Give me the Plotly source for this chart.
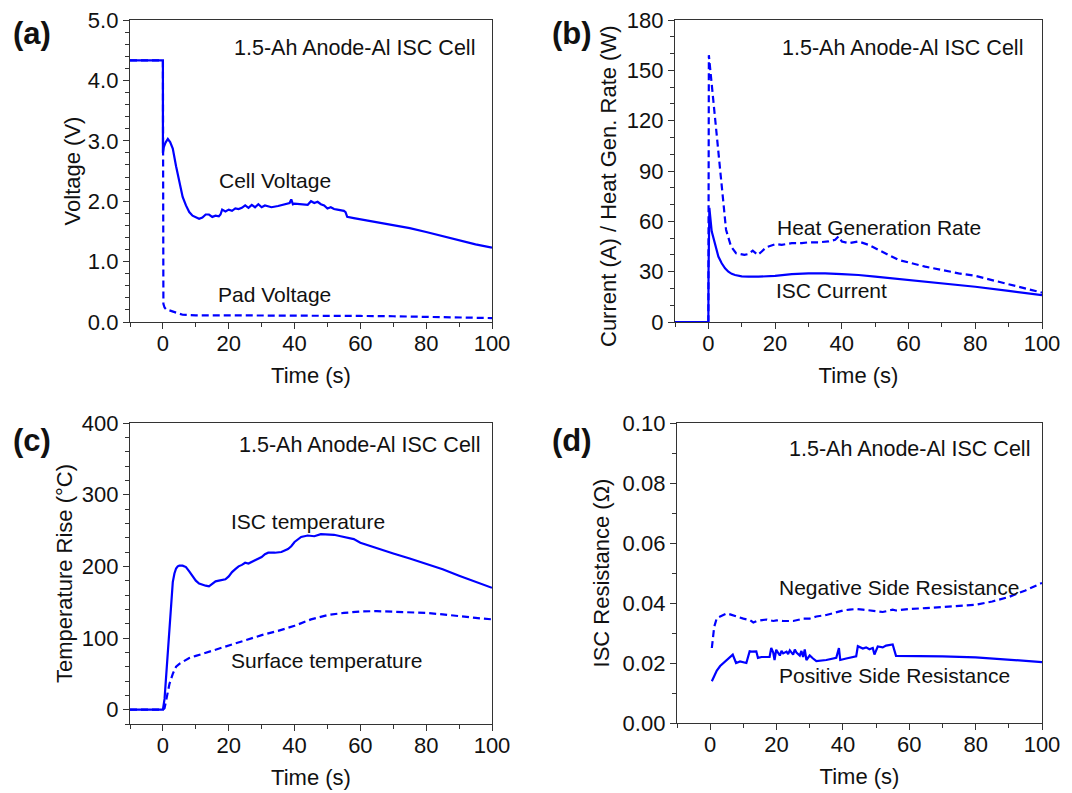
import plotly.graph_objects as go

# ---------------- data ----------------
# (a) voltages
t_cell = [-10, 0, 0, 0.3, 0.8, 1.5, 2.2, 3, 4, 5, 6, 7, 8, 9, 10, 11, 12, 13, 14, 15,
          16, 17, 17.5, 18, 19, 20, 21, 22, 23, 24, 25, 26, 27, 28, 29, 30, 31, 32, 33, 35,
          37, 38.5, 39, 39.5, 40, 42, 44, 45, 46, 47, 48, 49, 50, 51, 52, 53, 54, 55, 55.5, 56,
          58, 60, 65, 70, 75, 80, 85, 90, 95, 100]
v_cell = [4.33, 4.33, 2.8, 2.9, 2.97, 3.03, 2.98, 2.87, 2.58, 2.3, 2.07, 1.93, 1.82, 1.76, 1.73, 1.71, 1.73, 1.78, 1.78, 1.74,
          1.76, 1.75, 1.78, 1.86, 1.83, 1.86, 1.84, 1.88, 1.87, 1.89, 1.93, 1.89, 1.94, 1.90, 1.95, 1.90, 1.93, 1.92, 1.90, 1.92,
          1.95, 1.97, 2.03, 1.95, 1.96, 1.95, 1.94, 2.00, 1.97, 1.99, 1.95, 1.93, 1.88, 1.90, 1.87, 1.86, 1.85, 1.84, 1.82, 1.74,
          1.72, 1.70, 1.655, 1.61, 1.555, 1.49, 1.42, 1.35, 1.285, 1.23]
t_pad = [-10, 0, 0.15, 0.5, 1, 2, 3, 4, 5, 6, 8, 10, 20, 30, 40, 50, 60, 70, 80, 90, 100]
v_pad = [4.33, 4.33, 0.3, 0.24, 0.21, 0.19, 0.17, 0.15, 0.13, 0.12, 0.115, 0.11, 0.11, 0.11, 0.11, 0.105, 0.1, 0.095, 0.085, 0.075, 0.065]

# (b) current / heat generation rate
t_cur = [-10, 0, 0.05, 0.3, 1, 2, 3, 4, 5, 6, 7, 8, 9, 10, 12, 15, 20, 25, 30, 35,
         40, 45, 50, 55, 60, 70, 80, 90, 100]
i_cur = [0, 0, 30, 68, 54, 46, 39, 35, 32, 30, 28.7, 28, 27.5, 27.2, 27, 27, 27.5, 28.5, 29, 29,
         28.5, 28, 27, 26, 25, 23, 21, 18.5, 16]
t_heat = [-10, 0, 0.15, 0.8, 1.5, 2.3, 3.3, 4.3, 5.3, 6.8, 8.3, 10.8, 12, 13.3, 14.8, 16, 17.3, 20.3, 22, 25,
          28, 30, 33, 36, 38, 39, 40, 42, 45, 48, 50, 53, 55, 57, 60, 65, 70, 75, 80, 85, 90, 95, 100]
q_heat = [0, 0, 159, 146, 132, 112, 92, 73, 55, 45, 41, 40, 40.5, 42.5, 40, 42, 44.5, 46.5, 46, 47,
          47, 47.5, 47.5, 48, 49, 51, 48, 47, 48, 46, 44, 41, 39, 37, 35.5, 33, 31, 29, 27.5, 25, 22.5, 20, 17.5]

# (c) temperatures
t_isc = [-10, 0, 0.5, 1, 2, 3, 3.5, 4, 4.5, 5, 6, 7, 8, 9, 10, 11, 12, 13, 14, 15,
         16, 17, 18, 19, 20, 21, 22, 23, 24, 25, 26, 27, 28, 30, 31, 32, 34, 36, 38, 39,
         40, 41, 42, 44, 46, 48, 50, 52, 54, 56, 58, 60, 65, 70, 75, 80, 85, 90, 95, 100]
temp_isc = [0, 0, 15, 50, 115, 178, 190, 197, 200, 201, 201, 199, 193, 186, 180, 176, 174, 173, 172, 175,
            179, 180, 181, 182, 186, 192, 196, 200, 202, 205, 204, 206, 209, 213, 217, 219, 219, 220, 224, 228,
            234, 237, 241, 243, 242, 245, 245, 244, 242, 240, 238, 233, 225, 218, 211, 204, 196, 187, 179, 170]
t_surf = [-10, 0, 0.5, 1, 1.5, 2, 3, 4, 5, 6, 7, 8, 10, 12, 15, 20, 25, 30, 35, 40,
          45, 50, 55, 60, 65, 70, 75, 80, 85, 90, 95, 100]
temp_surf = [0, 0, 2, 15, 26, 36, 50, 60, 64, 67, 70, 72, 75, 78, 82, 90, 97, 104, 110, 117,
             126, 132, 135, 137, 137.5, 137, 136, 135, 133, 130, 128, 126]

# (d) resistances
t_neg = [0.5, 0.8, 1.2, 2, 3, 4, 5, 6, 7, 8, 10, 12, 13, 14, 15, 17, 19, 20, 22, 25,
         27, 28, 30, 32, 35, 38, 40, 42, 44, 46, 48, 50, 52, 54, 55, 56, 58, 60, 65, 70,
         75, 80, 85, 90, 95, 100]
r_neg = [0.025, 0.029, 0.032, 0.035, 0.0355, 0.036, 0.0365, 0.0362, 0.0358, 0.0355, 0.0348, 0.0343, 0.0335, 0.034, 0.0342, 0.0345, 0.0340, 0.0342, 0.034, 0.034,
         0.0345, 0.0348, 0.0348, 0.0355, 0.036, 0.037, 0.0375, 0.0378, 0.038, 0.0378, 0.0376, 0.0372, 0.037, 0.0375, 0.0378, 0.0375, 0.0378, 0.038, 0.0383, 0.0386,
         0.0389, 0.0394, 0.0405, 0.042, 0.0442, 0.0467]
t_pos = [0.5, 1, 2, 3, 4, 5, 6, 6.8, 7.8, 9, 10.9, 11.9, 12.5, 13.9, 14.4, 15.5, 17.9, 18.4, 19.0, 19.4,
         19.9, 20.5, 21, 21.5, 22, 23, 23.5, 24, 25, 25.5, 26, 27, 27.5, 28, 28.5, 29, 30, 31, 32, 35,
         38, 38.8, 39.2, 41, 44, 44.5, 46, 47, 48, 49, 49.5, 50.5, 52, 53, 55, 56, 60, 70, 80, 90, 100]
r_pos = [0.0139, 0.015, 0.0175, 0.019, 0.020, 0.021, 0.022, 0.0228, 0.020, 0.0205, 0.020, 0.0239, 0.0238, 0.0239, 0.0217, 0.022, 0.022, 0.025, 0.0235, 0.021,
         0.0244, 0.0235, 0.0225, 0.0240, 0.0232, 0.0238, 0.0230, 0.0242, 0.0228, 0.0245, 0.0235, 0.0225, 0.024, 0.022, 0.0245, 0.021, 0.0225, 0.0215, 0.0206, 0.021,
         0.0217, 0.025, 0.021, 0.0215, 0.0222, 0.0256, 0.0248, 0.0252, 0.0246, 0.025, 0.0228, 0.0255, 0.0252, 0.0258, 0.0262, 0.0224, 0.0224, 0.0222, 0.0219, 0.0212,
         0.0203]

panel_title = "1.5-Ah Anode-Al ISC Cell"

# ---------------- figure ----------------
# the page body has an 8px margin, so the figure is drawn 8px in from the window corner
OFF = 8
W, H = 1072 - 2 * OFF, 800
BLUE = "rgb(0,0,255)"
FONT = "Arial, 'Liberation Sans', sans-serif"
DASH = "7px,4px"
TXT = "#111"

fig = go.Figure()

def add(x, y, axis, dash=None):
    fig.add_trace(go.Scatter(x=x, y=y, mode="lines", xaxis="x" + axis, yaxis="y" + axis,
                             line=dict(color=BLUE, width=2.2, dash=dash or "solid"),
                             showlegend=False, hoverinfo="skip"))

add(t_pad, v_pad, "", DASH)
add(t_cell, v_cell, "")
add(t_heat, q_heat, "2", DASH)
add(t_cur, i_cur, "2")
add(t_surf, temp_surf, "3", DASH)
add(t_isc, temp_isc, "3")
add(t_neg, r_neg, "4", DASH)
add(t_pos, r_pos, "4")

def fx(px):
    return (px - OFF) / W

def fy(py):
    return 1 - (py - OFF) / H

common = dict(showline=True, linecolor="#333", linewidth=1.3, mirror=True,
              ticks="outside", ticklen=6, tickwidth=1.3, tickcolor="#333",
              showgrid=False, zeroline=False, automargin=False, ticklabeloverflow="allow",
              tickfont=dict(family=FONT, size=22, color=TXT),
              title_font=dict(family=FONT, size=22, color=TXT))

def xax(domain, anchor):
    return dict(common, domain=domain, anchor=anchor, range=[-10, 100], tick0=0, dtick=20,
                ticklabelstandoff=-5,
                minor=dict(ticks="outside", ticklen=3.5, tickwidth=1.2, tickcolor="#333", dtick=10, tick0=0),
                title=dict(text="Time (s)", standoff=13))

def yax(domain, anchor, rng, dtick, mdtick, fmt, title, standoff):
    return dict(common, domain=domain, anchor=anchor, range=rng, tick0=0, dtick=dtick, tickformat=fmt,
                minor=dict(ticks="outside", ticklen=3.5, tickwidth=1.2, tickcolor="#333", dtick=mdtick, tick0=0),
                title=dict(text=title, standoff=standoff))

xa, xb, xd = [fx(130), fx(492)], [fx(675), fx(1042)], [fx(677), fx(1042)]
ytop, ybot, yd = [fy(322), fy(20)], [fy(724), fy(423)], [fy(723), fy(423)]

fig.update_layout(
    width=W, height=H, margin=dict(l=0, r=0, t=0, b=0, autoexpand=False),
    paper_bgcolor="white", plot_bgcolor="white",
    font=dict(family=FONT, color=TXT),
    xaxis=xax(xa, "y"),
    yaxis=yax(ytop, "x", [0, 5], 1, 0.2, ".1f", "Voltage (V)", 1),
    xaxis2=xax(xb, "y2"),
    yaxis2=yax(ytop, "x2", [0, 180], 30, 10, "d", "", 6),
    xaxis3=xax(xa, "y3"),
    yaxis3=yax(ybot, "x3", [-20, 400], 100, 20, "d", "Temperature Rise (°C)", 3),
    xaxis4=xax(xd, "y4"),
    yaxis4=yax(yd, "x4", [0, 0.1], 0.02, 0.01, ".2f", "ISC Resistance (Ω)", 6),
)

ann = []
def text(x, y, s, axis, size=21, xanchor="center"):
    ann.append(dict(x=x, y=y, xref="x" + axis, yref="y" + axis, text=s, showarrow=False,
                    xanchor=xanchor, yanchor="middle", font=dict(family=FONT, size=size, color=TXT)))

text(95.4, 4.54, panel_title, "", size=21.5, xanchor="right")
text(34, 2.35, "Cell Voltage", "")
text(33.8, 0.46, "Pad Voltage", "")
text(95, 163.3, panel_title, "2", size=21.5, xanchor="right")
text(51, 56.6, "Heat Generation Rate", "2")
text(37, 18.5, "ISC Current", "2")
text(97, 369, panel_title, "3", size=21.5, xanchor="right")
text(44, 263, "ISC temperature", "3")
text(49.8, 69, "Surface temperature", "3")
text(97, 0.0913, panel_title, "4", size=21.5, xanchor="right")
text(57, 0.0453, "Negative Side Resistance", "4")
text(55.6, 0.0157, "Positive Side Resistance", "4")

# long y title of panel (b), placed like the original (shifted down from axis centre)
ann.append(dict(x=fx(608), y=fy(186), xref="paper", yref="paper",
                text="Current (A) / Heat Gen. Rate (W)", textangle=-90, showarrow=False,
                xanchor="center", yanchor="middle", font=dict(family=FONT, size=22, color=TXT)))

for lab, x, y in [("(a)", 32, 33), ("(b)", 572, 33), ("(c)", 32, 440), ("(d)", 572, 440)]:
    ann.append(dict(x=fx(x), y=fy(y), xref="paper", yref="paper", text="<b>%s</b>" % lab,
                    showarrow=False, xanchor="center", yanchor="middle",
                    font=dict(family=FONT, size=31, color=TXT)))

fig.update_layout(annotations=ann)
fig.write_html("out.html")
